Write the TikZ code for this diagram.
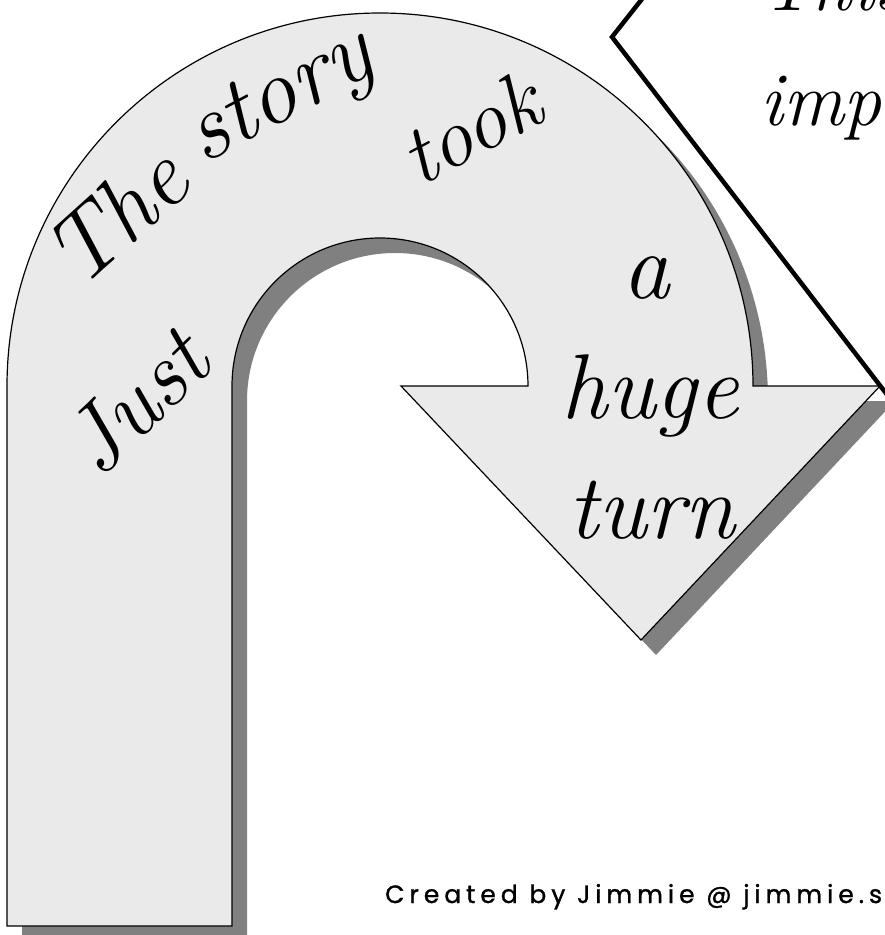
\documentclass[tikz,border=0pt]{standalone}
\usepackage{fontspec}
\newfontfamily\creditfont{Poppins}[LetterSpace=20, FakeBold=1.2]
\definecolor{arrowfill}{HTML}{EAEAEA}
\definecolor{shadowgray}{HTML}{808080}
\newcommand\uturnpath{(7,-926) -- (7,-386) arc[start angle=180,end angle=0,radius=373] -- (880,-386) -- (641,-640) -- (401,-386) -- (528,-386) arc[start angle=0,end angle=180,radius=148] -- (232,-926) -- cycle}
\tikzset{
  hand/.style={inner sep=0pt, font=\itshape\fontsize{#1}{#1}\selectfont},
  credit/.style={inner sep=0pt, font=\creditfont\fontsize{25}{28}\selectfont}
}
\begin{document}
\begin{tikzpicture}[x=1pt,y=1pt]
\useasboundingbox (0,0) rectangle (885,-935);
\clip (0,0) rectangle (885,-935);
% shadow
\fill[shadowgray, shift={(15,-15)}] \uturnpath;
% arrow
\draw[fill=arrowfill, line width=1.2pt, line join=miter] \uturnpath;
% callout
\draw[line width=4.5pt, fill=white, line join=miter] (657,20) -- (612,-37) -- (905,-418) -- (905,20) -- cycle;
\node[hand=76, anchor=base west] (c1) at (760,-10) {This};
\node[hand=76, anchor=base west] (c2) at (760,-125) {imp};
% arrow texts
\node[hand=94, rotate=42] (the) at (116,-216) {The};
\node[hand=94, rotate=28] (story) at (282,-100) {story};
\node[hand=84, rotate=28] (took) at (470,-128) {took};
\node[hand=92, rotate=44] (just) at (136,-402) {Just};
\node[hand=95, anchor=base] (a) at (646,-298) {a};
\node[hand=92, anchor=base] (huge) at (650,-418) {huge};
\node[hand=92, anchor=base] (turn) at (652,-538) {turn};
% credit
\node[credit, anchor=base west] (credit) at (385,-903) {Created by Jimmie @ jimmie.s};
\end{tikzpicture}
\end{document}
